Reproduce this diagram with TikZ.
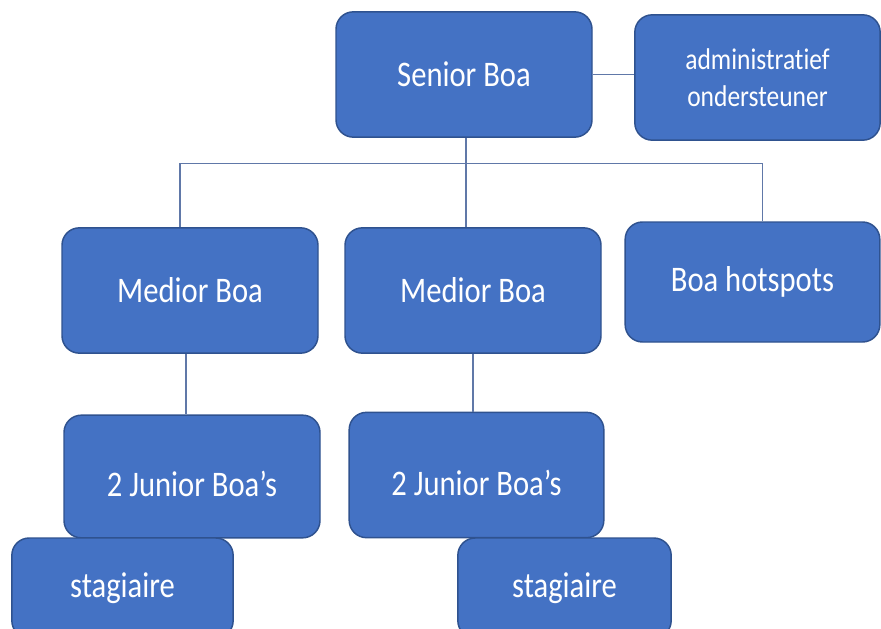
\documentclass[tikz,border=0pt]{standalone}
\usepackage{fontspec}
\setmainfont{Carlito}[FakeStretch=0.85, Ligatures=NoCommon]
\usepackage{tikz}
\usetikzlibrary{positioning,calc}
\definecolor{boxfill}{RGB}{68,114,196}
\definecolor{boxline}{RGB}{47,82,143}
\definecolor{linkcol}{RGB}{96,120,168}
\tikzstyle{unit} = [draw=boxline, fill=boxfill, line width=1.1pt, rounded corners=13pt,
    text=white, font=\fontsize{27}{31}\selectfont, align=center,
    minimum width=192pt, minimum height=94pt, inner sep=0pt]
\tikzstyle{small} = [font=\fontsize{22.5}{28}\selectfont]
\tikzstyle{junior} = [text height=36pt, text depth=6pt]
\tikzstyle{link} = [draw=linkcol, line width=0.8pt]

\begin{document}
\begin{tikzpicture}[x=0.75pt, y=-0.75pt]
		\useasboundingbox (0,0) rectangle (881,628);
		\clip (0,0) rectangle (881,628);

		% top row
		\node[unit] (senior) at (464,74.5) {Senior Boa};
		\node[unit, small, minimum width=184pt] (admin) at (757.5,77.5) {administratief\\ondersteuner};
		\coordinate (bus) at ($(senior.south)+(2,26)$);

		% middle row
		\node[unit] (medior1) at (190,290.5) {Medior Boa};
		\node[unit] (medior2) at (473,290.5) {Medior Boa};
		\node[unit, minimum width=191pt, minimum height=90pt] (hotspots) at (752.5,282) {Boa hotspots};

		% bottom row
		\node[unit, junior, minimum height=92pt] (junior1) at (192,476.5) {2 Junior Boa's};
		\node[unit, junior, minimum width=191pt] (junior2) at (476.5,475) {2 Junior Boa's};
		\node[unit, minimum width=166pt, minimum height=75pt] (stag1) at (122.5,588) {stagiaire};
		\node[unit, minimum width=160pt, minimum height=75pt] (stag2) at (564.5,588) {stagiaire};

		\draw[link] (senior.east) -- (senior.east -| admin.west);
		\draw[link] (bus |- senior.south) -- (bus |- medior2.north);
		\draw[link] ($(medior1.north)+(-10,0)$) |- (bus) -| ($(hotspots.north)+(10,0)$);
		\draw[link] ($(medior1.south)+(-4,0)$) -- ($(medior1.south |- junior1.north)+(-4,0)$);
		\draw[link] (medior2.south) -- (medior2.south |- junior2.north);
	\end{tikzpicture}
\end{document}
